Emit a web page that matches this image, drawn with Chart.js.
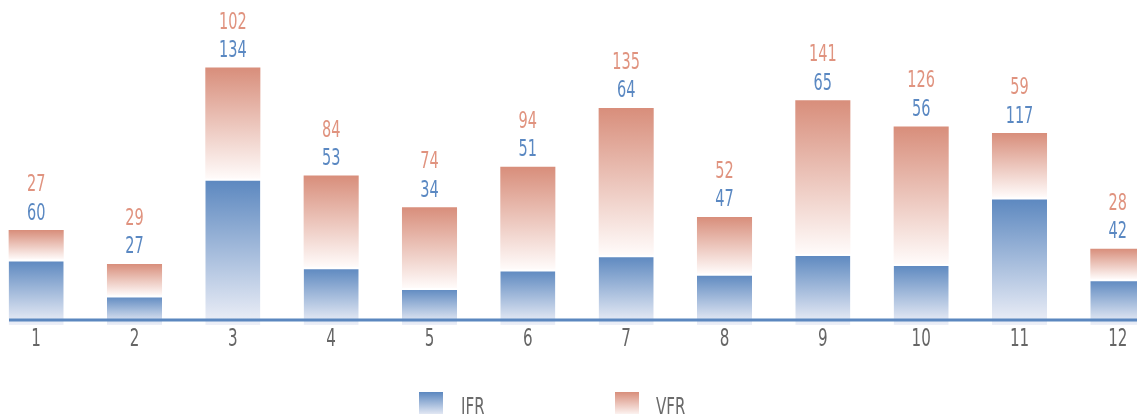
<!DOCTYPE html>
<html>
<head>
<meta charset="utf-8">
<script src="https://cdn.jsdelivr.net/npm/chart.js@4/dist/chart.umd.min.js"></script>
<style>
html,body{margin:0;padding:0;background:#fff;overflow:hidden;width:1137px;height:414px;}
#c{display:block;margin-left:-13px;}
</style>
</head>
<body>
<canvas id="c" width="1180" height="414"></canvas>
<script>
const categories = ['1','2','3','4','5','6','7','8','9','10','11','12'];
const ifrValues = [60,27,134,53,34,51,64,47,65,56,117,42];
const vfrValues = [27,29,102,84,74,94,135,52,141,126,59,28];
const seriesNames = ['IFR','VFR'];

const FONT = '"DejaVu Sans Condensed","DejaVu Sans",sans-serif';
const SX = 0.7; // horizontal squeeze to mimic condensed face
const BLUE_TOP = '#5b87bf', BLUE_BOT = '#eef0f8';
const RED_TOP = '#d88e7b', RED_BOT = '#fffbfa';
const BLUE_TXT = '#5a88c2', RED_TXT = '#e0937f';

function grad(ctx, top, bot) {
  const chart = ctx.chart;
  if (!chart.chartArea || ctx.type !== 'data') return top;
  const y = chart.scales.y;
  const i = ctx.dataIndex;
  const base = ctx.datasetIndex === 0 ? 0 : ifrValues[i];
  const val = ctx.datasetIndex === 0 ? ifrValues[i] : vfrValues[i];
  const g = chart.ctx.createLinearGradient(0, y.getPixelForValue(base + val), 0, y.getPixelForValue(base));
  g.addColorStop(0, top);
  g.addColorStop(1, bot);
  return g;
}

function squeezedText(c, text, x, y, align) {
  c.save();
  c.translate(x, y);
  c.scale(SX, 1);
  c.textAlign = align;
  c.fillText(text, 0, 0);
  c.restore();
}

const overlay = {
  id: 'overlay',
  afterDatasetsDraw(chart) {
    const c = chart.ctx;
    const area = chart.chartArea;
    const xs = chart.scales.x;
    c.save();
    // axis line
    c.strokeStyle = BLUE_TOP;
    c.lineWidth = 3;
    c.beginPath();
    c.moveTo(22, area.bottom - 5);
    c.lineTo(chart.width, area.bottom - 5);
    c.stroke();
    // category labels
    c.font = '24px ' + FONT;
    c.textBaseline = 'middle';
    c.fillStyle = '#666666';
    categories.forEach((lab, i) => {
      squeezedText(c, lab, xs.getPixelForValue(i), 340, 'center');
    });
    // value labels
    const meta = chart.getDatasetMeta(1);
    c.font = '23px ' + FONT;
    meta.data.forEach((el, i) => {
      c.fillStyle = BLUE_TXT;
      squeezedText(c, String(ifrValues[i]), el.x, el.y - 16.5, 'center');
      c.fillStyle = RED_TXT;
      squeezedText(c, String(vfrValues[i]), el.x, el.y - 45, 'center');
    });
    // legend
    const items = [
      {name: seriesNames[0], bx: 432, tx: 474, top: BLUE_TOP, bot: BLUE_BOT},
      {name: seriesNames[1], bx: 628, tx: 669, top: RED_TOP, bot: RED_BOT}
    ];
    c.font = '24px ' + FONT;
    c.textBaseline = 'alphabetic';
    items.forEach(it => {
      const g = c.createLinearGradient(0, 392, 0, 416);
      g.addColorStop(0, it.top);
      g.addColorStop(1, it.bot);
      c.fillStyle = g;
      c.fillRect(it.bx, 392, 24, 24);
      c.fillStyle = '#6b6b6b';
      squeezedText(c, it.name, it.tx, 415, 'left');
    });
    c.restore();
  }
};

new Chart(document.getElementById('c'), {
  type: 'bar',
  data: {
    labels: categories,
    datasets: [
      {
        label: seriesNames[0],
        data: ifrValues,
        backgroundColor: ctx => grad(ctx, BLUE_TOP, BLUE_BOT),
        borderColor: '#ffffff',
        borderWidth: {top: 2, left: 0, right: 0, bottom: 0},
        borderSkipped: 'start'
      },
      {
        label: seriesNames[1],
        data: vfrValues,
        backgroundColor: ctx => grad(ctx, RED_TOP, RED_BOT),
        borderWidth: 0
      }
    ]
  },
  options: {
    responsive: false,
    animation: false,
    devicePixelRatio: 1,
    datasets: { bar: { categoryPercentage: 1, barPercentage: 0.56 } },
    layout: { padding: { top: 0, left: 0, right: 0, bottom: 89 } },
    plugins: { legend: { display: false }, tooltip: { enabled: false } },
    scales: {
      x: {
        stacked: true,
        display: false
      },
      y: {
        stacked: true,
        display: false,
        min: 0,
        max: 298
      }
    }
  },
  plugins: [overlay]
});
</script>
</body>
</html>
